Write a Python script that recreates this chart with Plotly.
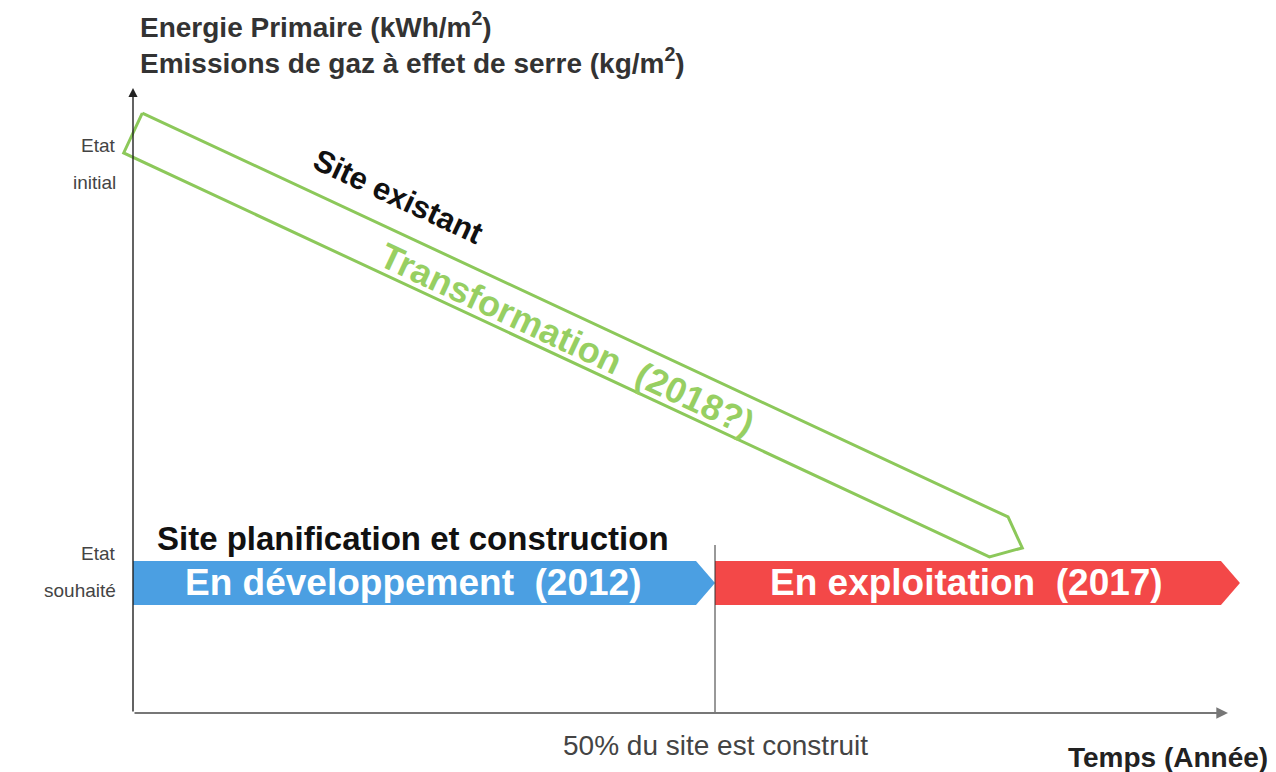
import math
import plotly.graph_objects as go

# Conceptual data: x = progress of the site over time, y = energy / emission level
level_labels = [["Etat", "initial"], ["Etat", "souhaité"]]
level_values = [100, 0]

phase_names = ["En développement  (2012)", "En exploitation  (2017)"]
phase_start = [0, 50]
phase_end = [50, 95.1]
phase_colors = ["#4b9fe2", "#f34848"]

transfo_start = [0, 100]     # (x, y) of the existing site
transfo_end = [76.4, 7.8]    # (x, y) where the transformation lands
transfo_labels = ["Site existant", "Transformation  (2018?)"]

milestone_x = 50
milestone_label = "50% du site est construit"

y_title = ["Energie Primaire (kWh/m<sup>2</sup>)",
           "Emissions de gaz à effet de serre (kg/m<sup>2</sup>)"]
x_title = "Temps (Année)"
band_title = "Site planification et construction"

# scale of the drawing (pixels per data unit); the page adds an 8 px body margin
W, H = 1268, 764
PX_X = 11.64
PX_Y = 4.5
X0_PX, Y0_PX = 125, 575
X_RANGE = [-X0_PX / PX_X, (W - X0_PX) / PX_X]
Y_RANGE = [-(H - Y0_PX) / PX_Y, Y0_PX / PX_Y]
AXIS_Y = -130 / PX_Y          # level of the time axis
AXIS_TOP = 495 / PX_Y
AXIS_RIGHT = 1095 / PX_X

FONT = "Arial, Liberation Sans, sans-serif"
GREEN = "#8cc85a"


def pentagon(x0, y0, x1, y1, half_px, tip_px):
    """Arrow band (flat back, pointed tip) from (x0,y0) to (x1,y1)."""
    dx, dy = (x1 - x0) * PX_X, (y1 - y0) * PX_Y
    L = math.hypot(dx, dy)
    ux, uy = dx / L, dy / L
    nx, ny = -uy, ux
    pts = [(nx * half_px, ny * half_px),
           (ux * (L - tip_px) + nx * half_px, uy * (L - tip_px) + ny * half_px),
           (ux * L, uy * L),
           (ux * (L - tip_px) - nx * half_px, uy * (L - tip_px) - ny * half_px),
           (-nx * half_px, -ny * half_px)]
    pts.append(pts[0])
    xs = [x0 + p[0] / PX_X for p in pts]
    ys = [y0 + p[1] / PX_Y for p in pts]
    return xs, ys


fig = go.Figure()

# phases (blue / red bands)
for name, s, e, c in zip(phase_names, phase_start, phase_end, phase_colors):
    xs, ys = pentagon(s, level_values[1], e, level_values[1], 22, 19)
    fig.add_trace(go.Scatter(x=xs, y=ys, mode='lines', fill='toself',
                             fillcolor=c, line=dict(color=c, width=0),
                             hoverinfo='skip', showlegend=False))
    fig.add_annotation(x=(s + e) / 2, y=level_values[1], xshift=-11, yshift=1,
                       text=f"<b>{name}</b>", showarrow=False,
                       font=dict(family=FONT, size=37, color="white"))

# transformation arrow (green outline)
xs, ys = pentagon(transfo_start[0], transfo_start[1], transfo_end[0], transfo_end[1], 22, 26)
fig.add_trace(go.Scatter(x=xs, y=ys, mode='lines', line=dict(color=GREEN, width=3),
                         hoverinfo='skip', showlegend=False))

dx = (transfo_end[0] - transfo_start[0]) * PX_X
dy = (transfo_end[1] - transfo_start[1]) * PX_Y
ang = math.degrees(math.atan2(-dy, dx))
L = math.hypot(dx, dy)
ux, uy = dx / L, -dy / L      # screen direction (y down)
nx, ny = uy, -ux              # screen normal pointing up
for label, t, off, size, col in [(transfo_labels[0], 0.272, 55, 31, "#111111"),
                                 (transfo_labels[1], 0.49, -4, 36, "#97cf62")]:
    fig.add_annotation(x=transfo_start[0] + t * (transfo_end[0] - transfo_start[0]),
                       y=transfo_start[1] + t * (transfo_end[1] - transfo_start[1]),
                       xshift=nx * off, yshift=-ny * off,
                       text=f"<b>{label}</b>", textangle=ang, showarrow=False,
                       font=dict(family=FONT, size=size, color=col))

# axes with arrow heads
fig.add_annotation(x=0, y=AXIS_TOP, ax=0, ay=AXIS_Y, xref='x', yref='y', axref='x', ayref='y',
                   text='', showarrow=True, arrowhead=2, arrowsize=1.3, arrowwidth=1.4,
                   arrowcolor="#222222")
fig.add_annotation(x=AXIS_RIGHT, y=AXIS_Y, ax=0, ay=AXIS_Y, xref='x', yref='y', axref='x', ayref='y',
                   text='', showarrow=True, arrowhead=2, arrowsize=1.3, arrowwidth=1.8,
                   arrowcolor="#777777")

# milestone divider
fig.add_trace(go.Scatter(x=[milestone_x, milestone_x], y=[AXIS_Y, 38 / PX_Y],
                         mode='lines', line=dict(color="#333333", width=1),
                         hoverinfo='skip', showlegend=False))
fig.add_annotation(x=milestone_x, y=AXIS_Y, yshift=-32, text=milestone_label, showarrow=False,
                   font=dict(family=FONT, size=28, color="#444444"))

# level labels (two lines each, wide line spacing)
for lines, v, shifts in zip(level_labels, level_values, [[-12, -49], [30, -7]]):
    for txt, ysh in zip(lines, shifts):
        fig.add_annotation(x=0, y=v, xshift=-15, yshift=ysh, text=txt, showarrow=False,
                           xanchor='right', font=dict(family=FONT, size=19, color="#444444"))

# titles
fig.add_annotation(x=0, y=AXIS_TOP, xshift=5, yshift=63, text=f"<b>{y_title[0]}</b>",
                   showarrow=False, xanchor='left', font=dict(family=FONT, size=28, color="#333333"))
fig.add_annotation(x=0, y=AXIS_TOP, xshift=5, yshift=27, text=f"<b>{y_title[1]}</b>",
                   showarrow=False, xanchor='left', font=dict(family=FONT, size=28, color="#333333"))
fig.add_annotation(x=AXIS_RIGHT, y=AXIS_Y, xshift=42, yshift=-44, text=f"<b>{x_title}</b>",
                   showarrow=False, xanchor='right', font=dict(family=FONT, size=28, color="#222222"))
fig.add_annotation(x=phase_start[0], y=level_values[1], xshift=22, yshift=45,
                   text=f"<b>{band_title}</b>", showarrow=False, xanchor='left',
                   font=dict(family=FONT, size=33, color="#111111"))

fig.update_xaxes(range=X_RANGE, visible=False)
fig.update_yaxes(range=Y_RANGE, visible=False)
fig.update_layout(width=W, height=H, margin=dict(l=0, r=0, t=0, b=0),
                  plot_bgcolor="white", paper_bgcolor="white", showlegend=False)

fig.write_html("out.html")
